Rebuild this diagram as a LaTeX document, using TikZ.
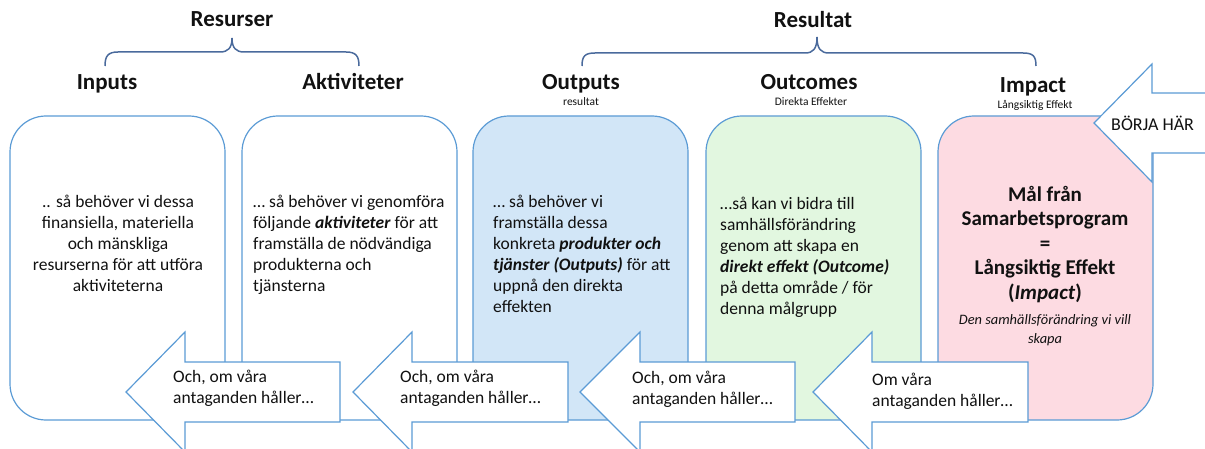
\documentclass[tikz,border=0pt]{standalone}
\usepackage{fontspec}
\setmainfont{Carlito}
\definecolor{boxblue}{HTML}{5B9BD5}
\definecolor{bluefill}{HTML}{D2E6F7}
\definecolor{greenfill}{HTML}{E2F7E0}
\definecolor{pinkfill}{HTML}{FDDBE2}
\definecolor{bracecol}{HTML}{4A6A9C}
\definecolor{txt}{HTML}{111111}
\begin{document}
\begin{tikzpicture}[x=1pt,y=-1pt,
  box/.style={draw=boxblue, line width=1.2pt, rounded corners=36pt, minimum width=215pt, minimum height=304pt, inner sep=0pt},
  arr/.style={draw=boxblue, line width=1.2pt, fill=white, line join=miter},
  body/.style={font=\fontsize{17.5}{21}\selectfont, inner sep=0pt, text=txt},
  hdr/.style={font=\fontsize{23}{27}\selectfont\bfseries, inner sep=0pt, anchor=base, text=txt},
  subt/.style={font=\fontsize{11.5}{13}\selectfont, inner sep=0pt, anchor=base, text=txt},
  bracep/.style={draw=bracecol, line width=1.5pt}]
\useasboundingbox (0,0) rectangle (1205,449);

% boxes
\node[box] (in) at (117.5,268) {};
\node[box] (akt) at (349.5,268) {};
\node[box, fill=bluefill] (out) at (580.5,268) {};
\node[box, fill=greenfill] (oc) at (813.5,268) {};
\node[box, fill=pinkfill] (imp) at (1045.5,268) {};

% arrows
\draw[arr] (126,392) -- (185,332) -- (185,362) -- (340,362) -- (340,422) -- (185,422) -- (185,452) -- cycle;
\draw[arr] (353,392) -- (412,332) -- (412,362) -- (568,362) -- (568,422) -- (412,422) -- (412,452) -- cycle;
\draw[arr] (580,392) -- (640,332) -- (640,362) -- (795,362) -- (795,422) -- (640,422) -- (640,452) -- cycle;
\draw[arr] (813,392) -- (872,332) -- (872,362) -- (1028,362) -- (1028,422) -- (872,422) -- (872,452) -- cycle;
\draw[arr] (1094,123) -- (1152,64) -- (1152,93) -- (1212,93) -- (1212,153) -- (1152,153) -- (1152,182) -- cycle;

% arrow texts
\node[body, anchor=north west, align=left] (a1) at (173,370) {Och, om våra\\antaganden håller…};
\node[body, anchor=north west, align=left] (a2) at (400,370) {Och, om våra\\antaganden håller…};
\node[body, anchor=north west, align=left] (a3) at (632,371) {Och, om våra\\antaganden håller…};
\node[body, anchor=north west, align=left] (a4) at (872,373) {Om våra\\antaganden håller…};
\node[body, anchor=west, font=\fontsize{18}{21}\selectfont] (start) at (1111,123) {BÖRJA HÄR};

% box texts
\node[body, anchor=north, align=center] (t1) at (118,195) {.. så behöver vi dessa\\finansiella, materiella\\och mänskliga\\resurserna för att utföra\\aktiviteterna};
\node[body, anchor=north west, align=left] (t2) at (253,195) {… så behöver vi genomföra\\följande \textbf{\textit{aktiviteter}} för att\\framställa de nödvändiga\\produkterna och\\tjänsterna};
\node[body, anchor=north west, align=left] (t3) at (493,195) {… så behöver vi\\framställa dessa\\konkreta \textbf{\textit{produkter och}}\\\textbf{\textit{tjänster (Outputs)}} för att\\uppnå den direkta\\effekten};
\node[body, anchor=north west, align=left] (t4) at (720,197) {…så kan vi bidra till\\samhällsförändring\\genom att skapa en\\\textbf{\textit{direkt effekt (Outcome)}}\\på detta område / för\\denna målgrupp};
\node[body, anchor=north, align=center, font=\fontsize{21}{24.5}\selectfont\bfseries] (t5) at (1045,186) {Mål från\\Samarbetsprogram\\=\\Långsiktig Effekt\\(\textit{Impact})};
\node[body, anchor=north, align=center, font=\fontsize{14.4}{19}\selectfont\itshape] (t5b) at (1045,314) {Den samhällsförändring vi vill\\skapa};

% headers
\node[hdr] (hin) at (107,90) {Inputs};
\node[hdr] (hakt) at (353,90) {Aktiviteter};
\node[hdr] (hout) at (581,90) {Outputs};
\node[hdr] (hoc) at (809,90) {Outcomes};
\node[hdr] (himp) at (1033,93) {Impact};
\node[subt] (sout) at (581,106) {resultat};
\node[subt] (soc) at (811,106) {Direkta Effekter};
\node[subt] (simp) at (1035,109) {Långsiktig Effekt};
\node[hdr] (hres) at (232,27) {Resurser};
\node[hdr] (hresult) at (813,28) {Resultat};

% braces
\draw[bracep] (105,66) .. controls (105,56) and (108,52) .. (118,52) -- (220,52) .. controls (228,52) and (232,48) .. (232,38) .. controls (232,48) and (236,52) .. (244,52) -- (346,52) .. controls (356,52) and (359,56) .. (359,66);
\draw[bracep] (582,66) .. controls (582,56) and (585,53) .. (595,53) -- (805,53) .. controls (813,53) and (817,49) .. (817,37) .. controls (817,49) and (821,53) .. (829,53) -- (1023,53) .. controls (1033,53) and (1036,56) .. (1036,66);
\end{tikzpicture}
\end{document}
